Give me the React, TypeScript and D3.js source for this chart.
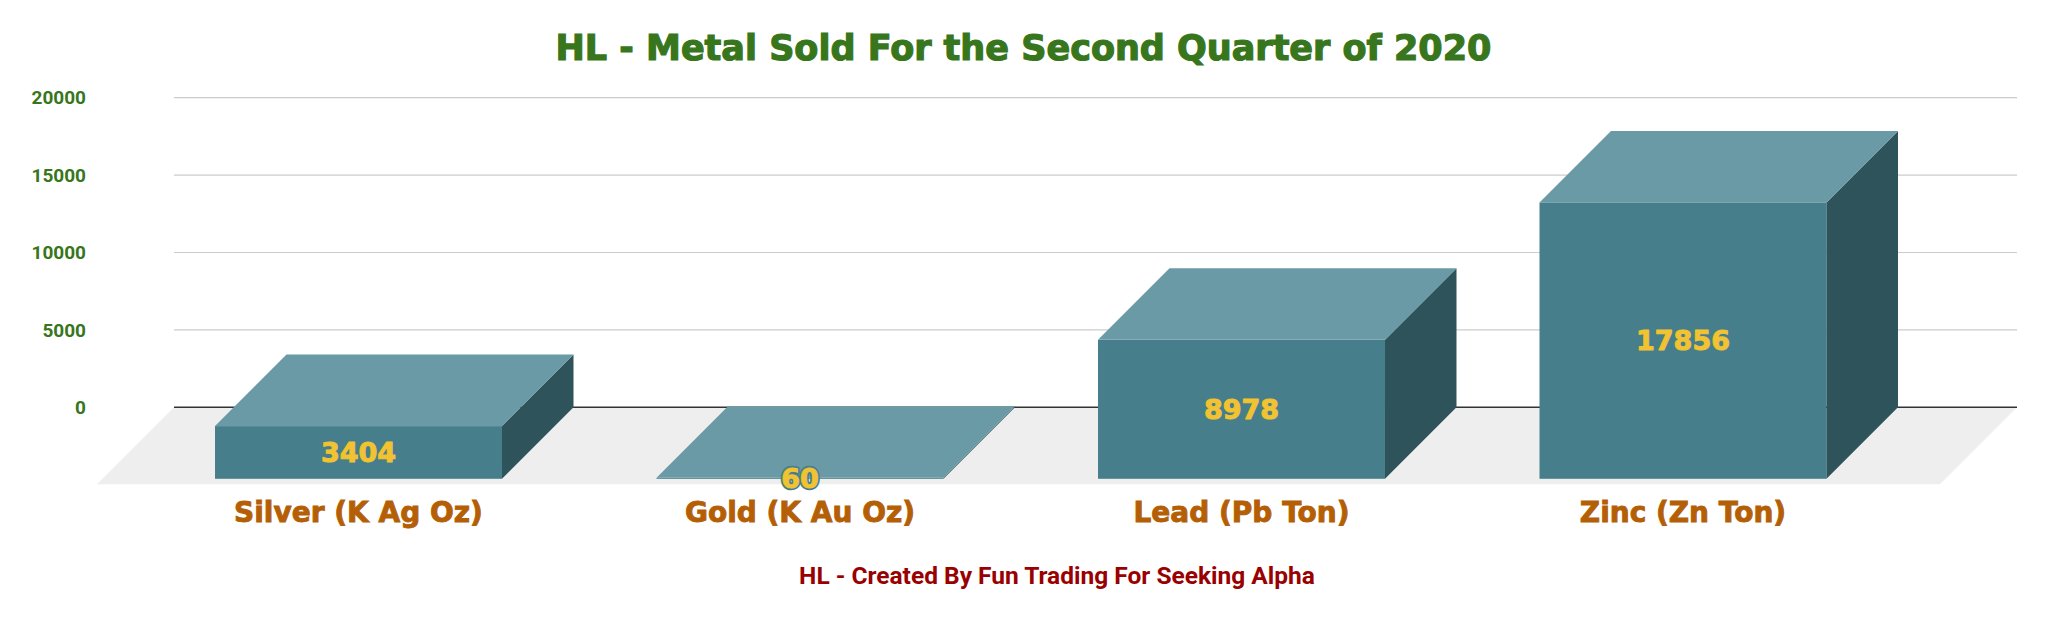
import React, { useEffect, useRef } from 'react';
import * as d3 from 'd3';

// Metal sold, Q2 2020
const categories = ['Silver (K Ag Oz)', 'Gold (K Au Oz)', 'Lead (Pb Ton)', 'Zinc (Zn Ton)'];
const values = [3404, 60, 8978, 17856];
const yTicks = [0, 5000, 10000, 15000, 20000];

const W = 2047;
const H = 620;

const App: React.FC = () => {
  const svgRef = useRef<SVGSVGElement>(null);

  useEffect(() => {
    if (!svgRef.current) return;
    const svg = d3.select(svgRef.current);
    svg.selectAll('*').remove();

    const depth = 71.5;      // bar depth offset (x and y)
    const floorDepth = 77;   // floor depth offset
    const backLeft = 174;
    const backRight = 2017;

    const y = d3.scaleLinear().domain([0, 20000]).range([407.3, 97.7]);

    // band scale for the front faces of the bars
    const x = d3.scaleBand<string>()
      .domain(categories)
      .range([137.75, 1903.75])
      .paddingInner(0.35)
      .paddingOuter(0.175);

    // Title
    svg.append('text')
      .attr('x', W / 2)
      .attr('y', 60)
      .attr('text-anchor', 'middle')
      .style('font-family', '"DejaVu Sans", sans-serif')
      .style('font-weight', 'bold')
      .style('font-size', '35px')
      .style('fill', '#38761d')
      .style('stroke', '#38761d')
      .style('stroke-width', '1.2px')
      .text('HL - Metal Sold For the Second Quarter of 2020');

    // Floor
    const y0 = y(0);
    svg.append('polygon')
      .attr('points', [
        [backLeft, y0], [backRight, y0],
        [backRight - floorDepth, y0 + floorDepth], [backLeft - floorDepth, y0 + floorDepth],
      ].map(p => p.join(',')).join(' '))
      .attr('fill', '#eeeeee');

    // Gridlines
    svg.append('g')
      .selectAll('line')
      .data(yTicks)
      .enter()
      .append('line')
      .attr('x1', backLeft)
      .attr('x2', backRight)
      .attr('y1', d => y(d))
      .attr('y2', d => y(d))
      .attr('stroke', d => (d === 0 ? '#333333' : '#cccccc'))
      .attr('stroke-width', d => (d === 0 ? 1.5 : 1.2));

    // Y tick labels
    svg.append('g')
      .selectAll('text')
      .data(yTicks)
      .enter()
      .append('text')
      .attr('x', 86)
      .attr('y', d => y(d))
      .attr('dy', '0.35em')
      .attr('text-anchor', 'end')
      .style('font-family', 'Roboto, sans-serif')
      .style('font-weight', 'bold')
      .style('font-size', '19px')
      .style('fill', '#38761d')
      .text(d => d);

    // 3D bars
    const bars = svg.append('g')
      .selectAll('g')
      .data(categories.map((c, i) => ({ c, v: values[i] })))
      .enter()
      .append('g');

    const pts = (arr: number[][]) => arr.map(p => p.join(',')).join(' ');

    bars.each(function (d) {
      const g = d3.select(this);
      const x0 = x(d.c)!;
      const x1 = x0 + x.bandwidth();
      const top = y(d.v) + depth;
      const bottom = y0 + depth;

      // front face
      g.append('rect')
        .attr('x', x0)
        .attr('y', top)
        .attr('width', x1 - x0)
        .attr('height', bottom - top)
        .attr('fill', '#467f8b');
      // side face
      g.append('polygon')
        .attr('points', pts([[x1, top], [x1 + depth, top - depth], [x1 + depth, y0], [x1, bottom]]))
        .attr('fill', '#2e535b');
      // top face
      g.append('polygon')
        .attr('points', pts([[x0, top], [x1, top], [x1 + depth, top - depth], [x0 + depth, top - depth]]))
        .attr('fill', '#6a9aa5');

      // value label: teal outline, then a slightly emboldened fill
      const cx = (x0 + x1) / 2;
      const cy = (top + bottom) / 2;
      const label = (stroke: string, sw: number) => g.append('text')
        .attr('x', cx)
        .attr('y', cy)
        .attr('dy', '0.36em')
        .attr('text-anchor', 'middle')
        .style('font-family', '"DejaVu Sans", sans-serif')
        .style('font-weight', 'bold')
        .style('font-size', '27px')
        .style('fill', '#f1c232')
        .style('stroke', stroke)
        .style('stroke-width', `${sw}px`)
        .style('stroke-linejoin', 'round')
        .text(d.v);
      label('#467f8b', 4.5);
      label('#f1c232', 1);
    });

    // Category labels
    svg.append('g')
      .selectAll('text')
      .data(categories)
      .enter()
      .append('text')
      .attr('x', d => x(d)! + x.bandwidth() / 2)
      .attr('y', 521.7)
      .attr('text-anchor', 'middle')
      .style('font-family', '"DejaVu Sans", sans-serif')
      .style('font-weight', 'bold')
      .style('font-size', '28px')
      .style('fill', '#b45f06')
      .style('stroke', '#b45f06')
      .style('stroke-width', '0.9px')
      .text(d => d);

    // Footer
    svg.append('text')
      .attr('x', 1057)
      .attr('y', 584.3)
      .attr('text-anchor', 'middle')
      .style('font-family', 'Roboto, sans-serif')
      .style('font-weight', 'bold')
      .style('font-size', '24.5px')
      .style('fill', '#990000')
      .text('HL - Created By Fun Trading For Seeking Alpha');
  }, []);

  return (
    <div>
      <style>{'body{margin:0;background:#fff}'}</style>
      <svg ref={svgRef} width={W} height={H} style={{ display: 'block' }}></svg>
    </div>
  );
};

export default App;
